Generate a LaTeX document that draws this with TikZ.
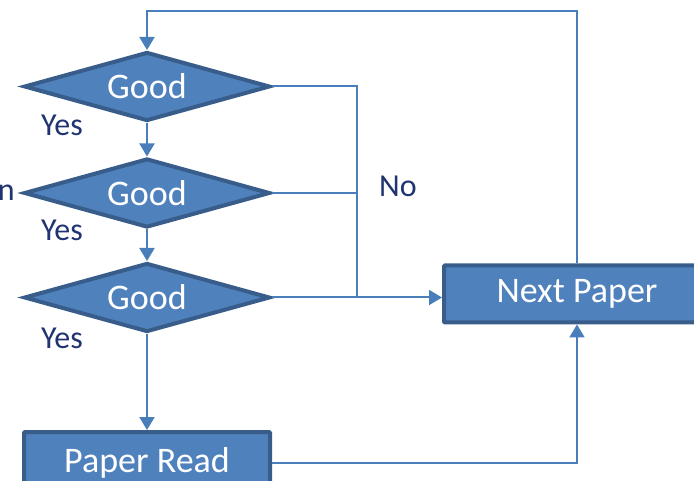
\documentclass[tikz,border=0pt]{standalone}
\usepackage{fontspec}
\setmainfont{Carlito}
\usetikzlibrary{shapes.geometric,arrows.meta}
\definecolor{boxfill}{HTML}{4F81BD}
\definecolor{boxline}{HTML}{385D8A}
\definecolor{conn}{HTML}{4A7EBB}
\definecolor{lbl}{HTML}{1F3470}
\tikzset{
  dec/.style={diamond,aspect=3.4,draw=boxline,fill=boxfill,line width=4pt,minimum width=246pt,minimum height=69pt,inner sep=0pt,text=white,font=\fontsize{36}{40}\selectfont},
  proc/.style={rectangle,draw=boxline,fill=boxfill,line width=4pt,inner sep=0pt,text=white,font=\fontsize{36}{40}\selectfont,rounded corners=1pt},
  conn/.style={draw=conn,line width=2pt},
  arr/.style={conn,-{Triangle[width=15pt,length=13pt]}},
  lab/.style={text=lbl,font=\fontsize{32}{36}\selectfont,inner sep=0pt}
}
\begin{document}
\begin{tikzpicture}[x=1pt,y=-1pt]
\useasboundingbox (0,0) rectangle (694,481);
\clip (0,0) rectangle (694,481);
\node[dec] (d1) at (147,86.5) {Good};
\node[dec] (d2) at (147,193) {Good};
\node[dec] (d3) at (147,297.5) {Good};
\node[proc,minimum width=246pt,minimum height=62pt] (pr) at (147,463) {Paper Read};
\node[proc,minimum width=266pt,minimum height=57pt] (np) at (577,294) {\raisebox{-3pt}{Next Paper}};
\coordinate (top) at (577,11);
\coordinate (topl) at (147,11);
\coordinate (j1) at (357,86.5);
\coordinate (j3) at (357,297.5);
\draw[arr] (np.north) -- (top) -- (topl) -- (d1.north);
\draw[arr] (d1.south) -- (d2.north);
\draw[arr] (d2.south) -- (d3.north);
\draw[arr] (d3.south) -- (pr.north);
\draw[conn] (d1.east) -- (j1) -- (j3);
\draw[conn] (d2.east) -- (d2.east -| j1);
\draw[arr] (d3.east) -- (d3.east -| np.west);
\draw[arr] (pr.east) -| (np.south);
\node[lab] (y1) at (62,125) {Yes};
\node[lab] (y2) at (62,230) {Yes};
\node[lab] (y3) at (62,338) {Yes};
\node[lab] (no) at (398,186) {No};
\node[lab,anchor=east] (cut) at (15,193) {n};
\end{tikzpicture}
\end{document}
